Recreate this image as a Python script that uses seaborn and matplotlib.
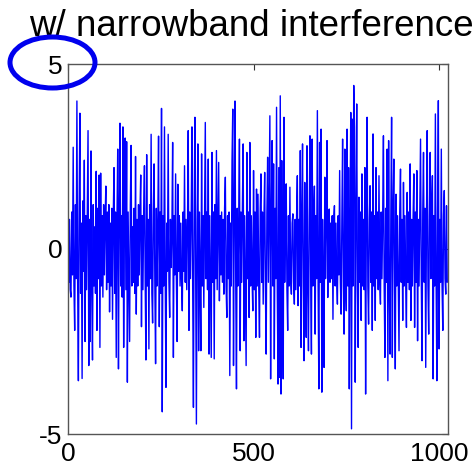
import numpy as np
import pandas as pd
import matplotlib
matplotlib.use("Agg")
import matplotlib.pyplot as plt
from matplotlib.patches import Ellipse
import seaborn as sns

title_text = "w/ narrowband interference"
x_ticks = [0, 500, 1000]
y_ticks = [-5, 0, 5]

seg1 = [1.1, -0.9, 0.8, -1.1, -1.3, 1.0, -0.7, 2.75, -1.0, -2.2, 1.2, -0.8, 4.0, -0.9, -3.56, 1.1,
        3.67, -1.2, 0.7, -3.5, 1.3, -0.6, 2.4, -2.5, 0.9, -1.1, 1.0, 3.2, -3.15, 0.8, -2.5, 2.65,
        -0.9, -3.0, 1.2, -1.0, 0.6, -1.2, 2.1, -2.2, 1.1, -0.8, 2.0, -2.66, 2.05, -1.0, 0.9, -1.3,
        1.2, -0.7, 0.8, 1.7, -1.1, 1.0, -0.9, 1.2, -1.7, 0.7, -1.0, 1.1, -1.9, 0.9, 2.2, -1.2,
        1.0, -2.93, 0.8, 2.7, -3.24, 1.1, 3.4, -1.0, 0.9, -1.3, 3.3, -2.66, 0.7, 3.0, -1.1, 2.9,
        -3.6, 1.0, -0.8, -2.5, 1.2, 2.8, -1.0, 0.6, -0.9, 1.1, -1.2, 2.5, -1.76, 0.8, -1.0, 1.2,
        -0.7, 1.0, 2.0, -2.1, 0.9, -1.1, 1.1, 2.25, -0.9, -3.0, 2.55, -1.0, 0.8, -2.7, 1.2, -0.8,
        3.1, -1.2, -2.0, 1.0, 2.3, -0.9, -3.1, 1.1, -1.0, 0.7, 3.05, -2.1, 1.0, -1.2, 3.8, -4.4]

seg2 = [0.9, -1.0, 3.3, -0.8, -3.74, 0.7, -0.6, 3.1, -0.9, -1.85, 0.8, -0.5, 0.6, 2.88, -2.93, 0.9,
        -0.7, 2.03, -0.8, -2.5, 1.75, -0.6, 0.9, -1.0, 0.7, -0.8, -1.67, 1.0, -0.6, 2.25, -0.9, 0.8,
        -1.1, 0.6, 3.2, -2.2, 1.0, -0.8, 0.9, 3.3, -1.0, -4.28, 1.1, 3.56, -0.9, -4.73, 0.8, 2.84,
        -2.75, 1.0, -0.7, -2.75, 2.57, -1.0, 0.9, -1.58, 1.1, 3.42, -0.8, 1.0, -1.1, 2.43, -2.84, 0.9,
        -1.0, -2.93, 2.61, -0.9, 1.0, -2.97, 1.2, -0.8, 2.66, -1.1, 0.7, 2.34, -1.4, 0.9, -0.7, 1.0,
        -0.9, 0.8, -1.22, 1.1, 1.94, -1.0, -1.85, 0.9, -0.8, 1.0, -3.42, 0.7, -1.0, 2.39, 3.78, -3.15,
        1.0, 4.0, -0.9, -3.78, 1.1, -1.0, 0.8, 2.97, -2.75, 1.0, -0.9, 1.2, 2.84, -2.48, 0.9, -1.1,
        -3.15, 2.61, -0.8, 1.0, -1.85, 2.88, -1.0, 0.9, -0.8, -1.67, 2.12, -1.1, 1.0, -2.39, 1.62, -1.0]

seg3 = [1.48, -1.0, -2.39, 1.1, 2.03, -0.9, 1.0, -1.49, 0.8, 2.07, -1.1, -2.84, 1.0, 2.48, -0.9, 1.2,
        3.6, -3.51, 0.9, 2.93, -1.0, 2.3, -2.97, 1.1, -0.8, 3.83, -1.2, -3.65, 2.2, -3.47, 4.14, -3.92,
        2.39, -1.0, -3.51, 3.56, -0.9, 1.0, 1.76, -1.1, -2.2, 0.9, -1.0, 1.67, -0.8, -1.22, 0.7, 0.95,
        -0.9, -1.49, 0.8, -1.1, 0.9, 1.98, -1.53, 0.8, -1.0, 2.66, -2.66, 0.9, 2.84, -1.0, -3.02, 1.8,
        -0.9, -2.39, 2.79, -1.0, -2.75, 0.9, 3.06, -0.8, -2.84, 2.97, -1.0, 0.8, 1.7, -2.3, 0.9, -0.8,
        3.74, -1.0, -3.78, 2.88, -0.9, 3.24, -3.87, 0.8, -1.0, -3.2, 1.94, -0.8, 0.7, 2.93, -1.31, 0.8,
        1.08, -0.9, 0.7, -0.8, 0.9, -1.9, 0.8, 1.17, -1.0, 0.7, -0.8, -1.49, 0.9, -0.7, 2.12, -0.9,
        -1.76, 0.8, 2.97, -1.0, -2.3, 2.7, -0.9, -1.67, 3.24, -1.0, 2.2, -3.78, 0.9, 3.69, -4.86, 3.51]

seg4 = [-1.0, 4.42, 3.29, -3.6, 0.9, 3.92, -1.0, -2.66, 1.4, -0.9, 1.0, -1.93, 2.03, -1.0, 0.8, -1.1,
        2.2, -3.92, 0.9, 3.56, -1.0, -2.03, 0.8, 1.71, -0.9, 1.0, -2.2, 3.11, -1.0, 0.9, -1.93, 2.2,
        -0.8, 1.0, -1.1, 1.98, -0.9, -1.49, 1.0, -0.8, 0.9, 3.06, -1.0, -2.93, 1.1, -0.9, 2.7, -3.56,
        2.93, -1.0, -2.84, 0.9, 3.56, -2.93, 1.0, 2.43, -0.9, -3.24, 1.48, -1.0, 0.9, -0.8, -2.75, 1.0,
        2.16, -0.9, 0.8, -1.93, 1.8, -1.0, 0.9, -0.8, -2.12, 1.53, -0.9, 1.0, -1.1, 2.3, -1.93, 0.8,
        -1.0, 0.9, 2.03, -2.12, 1.0, -0.9, 2.12, -2.48, 0.8, -1.0, 0.9, 2.97, -0.8, -3.02, 1.0, 2.61,
        -0.9, 1.1, -3.2, 0.8, 3.2, -1.0, -2.3, 0.9, 2.61, -0.8, 1.0, 1.98, -3.51, 0.9, -1.0, 3.65,
        -0.9, -3.56, 1.0, 4.01, -2.7, 0.8, -0.9, 2.7, -1.0, -2.2, 0.9, 1.58, -0.8, -1.22, 1.17, -0.9]

signal = np.array(seg1 + seg2 + seg3 + seg4)
sample = np.arange(len(signal)) * 2
df = pd.DataFrame({"sample": sample, "value": signal})

sns.set_style("white")
plt.rcParams["font.family"] = ["Liberation Sans", "DejaVu Sans"]
plt.rcParams["text.color"] = "black"

W, H = 476, 468
fig = plt.figure(figsize=(W / 100, H / 100), dpi=100)
ax = fig.add_axes([68 / W, (H - 434) / H, 380 / W, 370 / H])

sns.lineplot(data=df, x="sample", y="value", ax=ax, color="#0000ff",
             linewidth=1.0, estimator=None, sort=False)

ax.set_xlim(0, 1024)
ax.set_ylim(-5, 5)
ax.set_xticks(x_ticks)
ax.set_yticks(y_ticks)
ax.set_xticklabels([str(t) for t in x_ticks])
ax.set_yticklabels([str(t) for t in y_ticks])
ax.set_xlabel("")
ax.set_ylabel("")
for s in ax.spines.values():
    s.set_visible(True)
    s.set_color("#555555")
    s.set_linewidth(1.0)
ax.tick_params(axis="both", direction="in", length=4, width=0.8, colors="#333333",
               labelcolor="black", labelsize=19, top=True, right=True)
ax.tick_params(axis="x", pad=6)
ax.tick_params(axis="y", pad=4)

fig.text(251 / W, 1 - 36 / H, title_text, ha="center", va="baseline",
         fontsize=26.5, color="black")

ell = Ellipse((52.5 / W, 1 - 62.5 / H), 85 / W, 51 / H, transform=fig.transFigure,
              fill=False, edgecolor="#0000ee", linewidth=3.6, zorder=10)
fig.add_artist(ell)

fig.savefig("out.png", dpi=100)
